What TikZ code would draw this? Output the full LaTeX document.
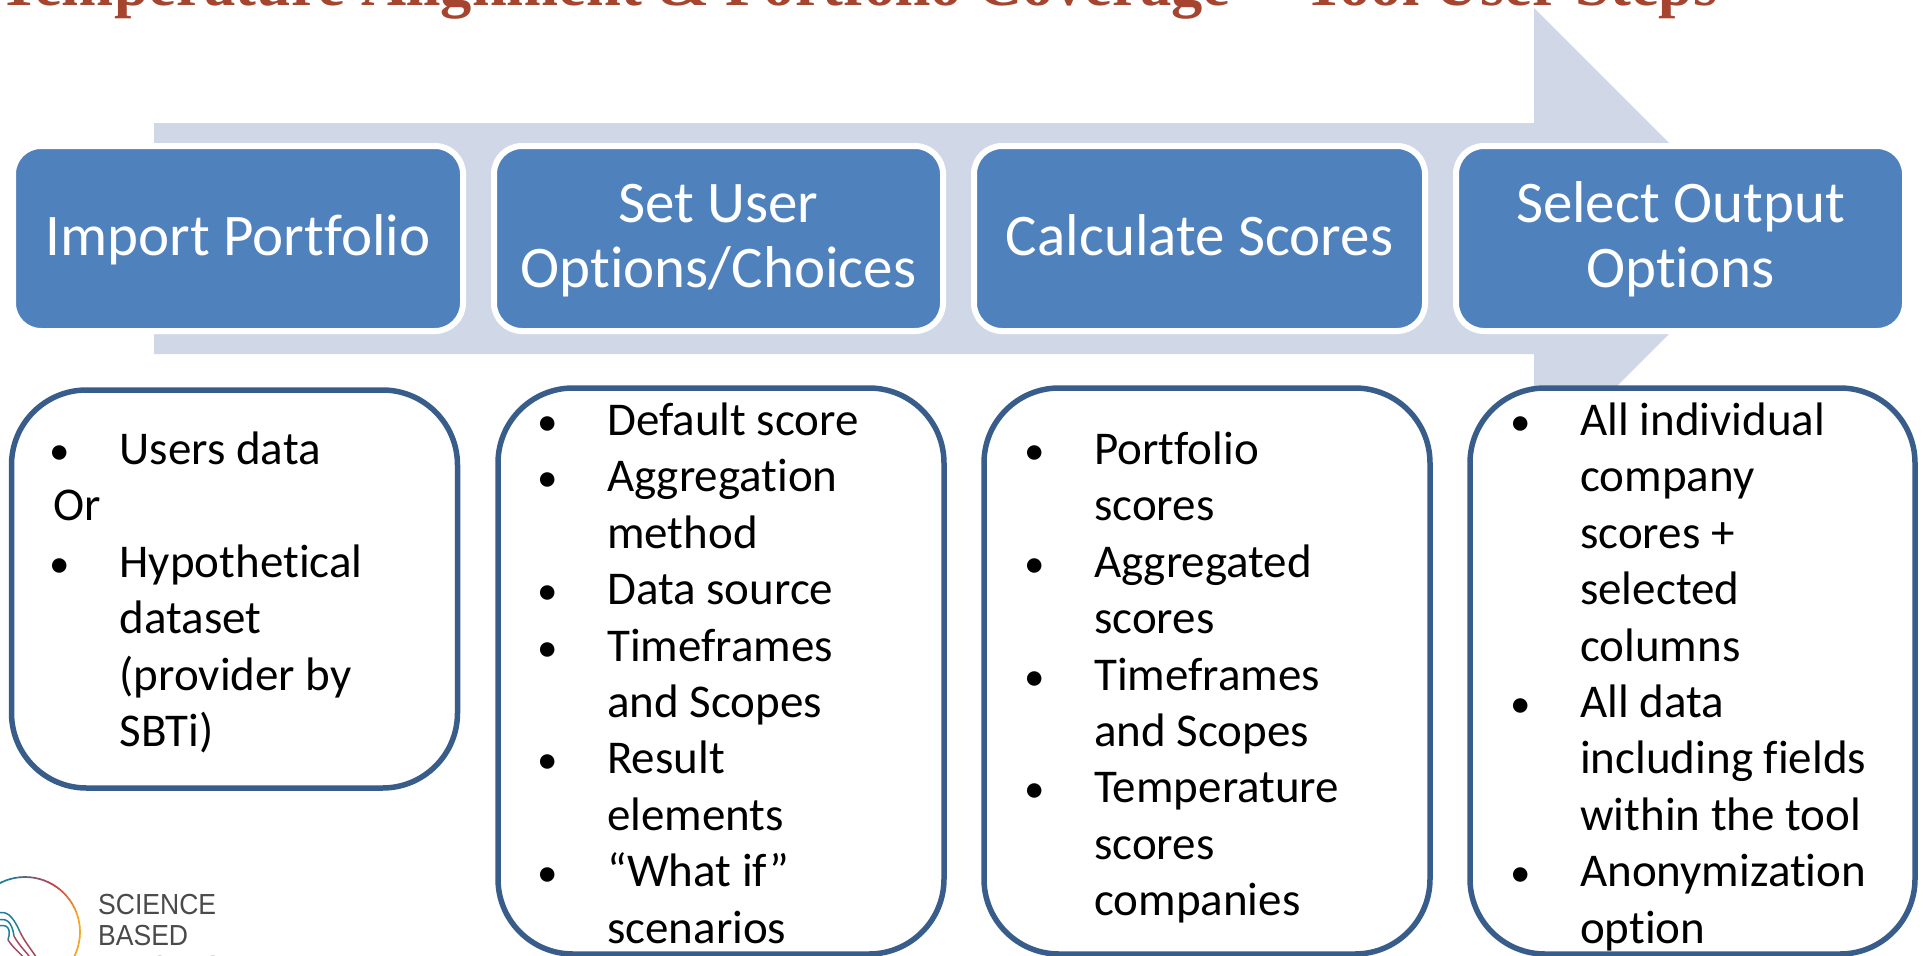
\documentclass[tikz,border=0pt]{standalone}
\usepackage{graphicx}
\usepackage{fontspec}
\setmainfont[Ligatures=NoCommon]{Carlito}
\newfontfamily\titlefont{Liberation Serif}
\newfontfamily\logofont{Liberation Sans}
\definecolor{arrowfill}{HTML}{D0D8E8}
\definecolor{hdrfill}{HTML}{4F81BD}
\definecolor{boxline}{HTML}{385D8A}
\definecolor{titlered}{HTML}{A5452F}
\definecolor{logogray}{HTML}{4A4A4A}
\definecolor{logoteal}{HTML}{1F7F9A}
\definecolor{logored}{HTML}{C43A4E}
\definecolor{logoorange}{HTML}{F5A623}
\newcommand\bi[1]{\hbox{\makebox[70pt][l]{\fontsize{41pt}{41pt}\selectfont •}#1}}
\newcommand\ci[1]{\hbox{\hspace*{70pt}#1}}
\newcommand\pl[1]{\hbox{\hspace*{3.5pt}#1}}
\newcommand\blines[1]{\vtop{\fontsize{47pt}{56.4pt}\selectfont\baselineskip=56.4pt\lineskiplimit=-100pt #1}}
\newcommand\logotext[1]{\scalebox{.915}[1]{#1}}
\newcommand\hs{\rule[-12pt]{0pt}{57pt}}
\tikzset{
  hdr/.style={draw=white,line width=6pt,fill=hdrfill,rounded corners=28pt,text=white,align=center,
    font=\fontsize{59pt}{65pt}\selectfont,inner sep=0pt,minimum height=185pt},
  detail/.style={draw=boxline,line width=5.5pt,fill=white,rounded corners=75pt,inner sep=0pt},
  body/.style={anchor=base west,inner sep=0pt,text=black},
  logotxt/.style={anchor=base west,inner sep=0pt,text=logogray,font=\logofont\fontsize{29pt}{31pt}\selectfont}
}
\begin{document}
\begin{tikzpicture}[x=1pt,y=-1pt]
\useasboundingbox (0,0) rectangle (1923,956);
\clip (0,0) rectangle (1923,956);
% block arrow
\fill[arrowfill] (154,123) -- (1534,123) -- (1534,8) -- (1764.5,238.5) -- (1534,469) -- (1534,354) -- (154,354) -- cycle;
% title
\node[anchor=base west,inner sep=0pt,text=titlered,font=\titlefont\bfseries\fontsize{62.5pt}{62.5pt}\selectfont] (title) at (-2,5) {Temperature Alignment \& Portfolio Coverage -- Tool User Steps};
% step headers
\node[hdr,minimum width=450pt] (h1) at (238,238.5) {\hs Import Portfolio};
\node[hdr,minimum width=449pt] (h2) at (718.5,238.5) {\hs Set User\\\hs Options/Choices};
\node[hdr,minimum width=451pt] (h3) at (1199.5,238.5) {\hs Calculate Scores};
\node[hdr,minimum width=449pt] (h4) at (1680.5,238.5) {\hs Select Output\\\hs Options};
% detail boxes
\node[detail,minimum width=446pt,minimum height=398pt] (d1) at (234.5,589) {};
\node[detail,minimum width=446pt,minimum height=566pt] (d2) at (721,671) {};
\node[detail,minimum width=446pt,minimum height=566pt] (d3) at (1207,671) {};
\node[detail,minimum width=445pt,minimum height=566pt] (d4) at (1692.5,671) {};
\node[body] (t1) at (49.5,464.5) {\blines{\bi{Users data}\pl{Or}\bi{Hypothetical}\ci{dataset}\ci{(provider by}\ci{SBTi)}}};
\node[body] (t2) at (537,435.5) {\blines{\bi{Default score}\bi{Aggregation}\ci{method}\bi{Data source}\bi{Timeframes}\ci{and Scopes}\bi{Result}\ci{elements}\bi{“What if”}\ci{scenarios}}};
\node[body] (t3) at (1024,464.5) {\blines{\bi{Portfolio}\ci{scores}\bi{Aggregated}\ci{scores}\bi{Timeframes}\ci{and Scopes}\bi{Temperature}\ci{scores}\ci{companies}}};
\node[body] (t4) at (1510,435.5) {\blines{\bi{All individual}\ci{company}\ci{scores +}\ci{selected}\ci{columns}\bi{All data}\ci{including fields}\ci{within the tool}\bi{Anonymization}\ci{option}}};
% logo ring
\foreach \a in {150,145,...,-30}{
  \pgfmathsetmacro\mixa{\a>60 ? 100*(\a-60)/50 : 0}
  \pgfmathsetmacro\mixaa{min(\mixa,100)}
  \pgfmathsetmacro\mixb{\a<=60 ? min(100,100*(60-\a)/40) : 0}
  \ifdim\a pt>60pt
    \colorlet{ringcol}{logoteal!\mixaa!logored}
  \else
    \colorlet{ringcol}{logoorange!\mixb!logored}
  \fi
  \draw[line width=1.7pt,color=ringcol,line cap=round] ({25+55*cos(\a)},{932-55*sin(\a)}) -- ({25+55*cos(\a-5)},{932-55*sin(\a-5)});
}
% logo curves
\foreach \d/\e in {0/0,7/-6,13/-12}{
  \draw[line width=1.5pt,color=logoteal] (-2,{913+\d}) .. controls (6,{911+\d}) and (12,{914+\d}) .. ({20+\e},{932+\d*0.6});
  \draw[line width=1.5pt,color=logored!80!logoteal] ({20+\e},{932+\d*0.6}) .. controls ({26+\e},{944+\d*0.4}) and ({32+\e},{950+\d*0.2}) .. ({38+\e},960);
}
\node[logotxt] (l1) at (98,914) {\logotext{SCIENCE}};
\node[logotxt] (l2) at (98,945) {\logotext{BASED}};
\node[logotxt] (l3) at (98,976) {\logotext{TARGETS}};
\end{tikzpicture}
\end{document}
